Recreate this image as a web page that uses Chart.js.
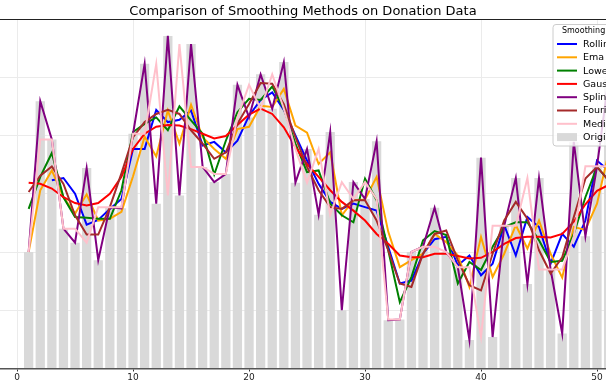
<!DOCTYPE html>
<html>
<head>
<meta charset="utf-8">
<script src="https://cdn.jsdelivr.net/npm/chart.js@4.4.1/dist/chart.umd.min.js"></script>
<style>
  html, body { margin: 0; padding: 0; background: #fff; width: 606px; height: 384px; overflow: hidden; }
  #title { position: absolute; left: 0; top: 3px; width: 606px; text-align: center;
           font: 13px "DejaVu Sans", sans-serif; color: #000; }
  #wrap { position: absolute; left: 0; top: 0; width: 700px; height: 384px; }
</style>
</head>
<body>
<div id="wrap"><canvas id="chart" width="700" height="384"></canvas></div>
<div id="title">Comparison of Smoothing Methods on Donation Data</div>
<script>
// days 1..51 (the figure is cut off on the right)
const days = [1,2,3,4,5,6,7,8,9,10,11,12,13,14,15,16,17,18,19,20,21,22,23,24,25,
  26,27,28,29,30,31,32,33,34,35,36,37,38,39,40,41,42,43,44,45,46,47,48,49,50,51];

const original = [200,459,393,240,216,344,186,277,275,403,523,283,571,297,557,346,320,334,487,431,
  505,446,526,319,377,264,406,100,320,291,390,83,84,200,209,276,200,174,49,362,
  54,245,327,145,327,170,60,389,227,347,497];

const rolling = [null,null,323,327,300,247,255,274,291,377,377,444,423,427,443,383,389,371,391,434,
  461,474,444,400,357,317,286,274,283,277,271,209,146,151,197,222,226,177,194,160,
  180,246,194,260,243,180,231,209,254,357,340];

const ema = [200,306,340,294,266,299,254,257,269,330,398,364,443,386,453,397,377,360,411,415,
  451,449,480,417,405,351,371,263,289,290,329,235,174,186,197,231,217,194,140,226,
  157,197,246,206,254,197,156,243,238,283,370];

const lowess = [274,329,370,294,260,259,257,257,306,406,420,431,409,450,426,403,333,391,440,463,
  461,484,446,386,337,340,283,263,251,326,289,203,114,157,220,236,229,146,183,169,
  209,243,251,251,220,183,185,231,294,346,323];

const gaussian = [319,317,309,294,284,280,284,300,329,377,403,415,418,417,411,403,395,399,418,436,
  446,437,414,380,351,329,306,286,271,254,231,214,194,191,191,197,197,193,189,190,
  200,214,224,226,226,225,231,252,282,305,315];

const spline = original.slice();

const fourier = [303,331,347,317,263,230,230,277,335,397,423,437,444,437,409,386,360,371,420,454,
  490,489,454,397,346,306,277,274,289,289,254,203,146,140,197,231,237,186,143,134,
  197,254,286,257,203,163,191,260,326,346,323];

const median = [200,393,393,240,240,216,277,277,277,403,403,523,297,557,346,346,334,334,431,487,
  446,505,446,377,319,377,264,320,291,320,291,84,84,200,209,209,200,174,174,54,
  245,245,245,327,170,170,170,227,347,347,347];

const xTicks = [0, 10, 20, 30, 40, 50];

function toPoints(ys) {
  return ys.map((y, i) => ({ x: days[i], y: y }));
}

function lineSet(label, values, color, order) {
  return {
    type: 'line',
    label: label,
    data: toPoints(values),
    borderColor: color,
    backgroundColor: color,
    borderWidth: 2,
    pointRadius: 0,
    tension: 0,
    fill: false,
    order: order
  };
}

// legend box like matplotlib's, drawn last
const boxLegend = {
  id: 'boxLegend',
  afterDraw(chart) {
    const ctx = chart.ctx;
    const left = 553, top = 24.5, w = 120, h = 121.5;
    ctx.save();
    ctx.beginPath();
    ctx.roundRect(left, top, w, h, 3);
    ctx.fillStyle = 'rgba(255,255,255,0.8)';
    ctx.fill();
    ctx.strokeStyle = '#cccccc';
    ctx.lineWidth = 1;
    ctx.stroke();

    ctx.fillStyle = '#000';
    ctx.textBaseline = 'middle';
    ctx.font = '8px "DejaVu Sans"';
    ctx.fillText('Smoothing Method', 562, 31);

    ctx.font = '9.5px "DejaVu Sans"';
    chart.data.datasets.forEach((ds, i) => {
      const y = 44 + i * 13.3;
      if (ds.type === 'line') {
        ctx.strokeStyle = ds.borderColor;
        ctx.lineWidth = 2;
        ctx.beginPath();
        ctx.moveTo(557, y);
        ctx.lineTo(577, y);
        ctx.stroke();
      } else {
        ctx.fillStyle = ds.backgroundColor;
        ctx.fillRect(557, y - 4, 20, 8);
      }
      ctx.fillStyle = '#000';
      ctx.fillText(ds.label, 583, y + 0.5);
    });
    ctx.restore();
  }
};

Chart.defaults.font.family = '"DejaVu Sans", sans-serif';

new Chart(document.getElementById('chart'), {
  type: 'bar',
  data: {
    datasets: [
      lineSet('Rolling', rolling, '#0000ff', 7),
      lineSet('Ema', ema, '#ffa500', 6),
      lineSet('Lowess', lowess, '#008000', 5),
      lineSet('Gaussian', gaussian, '#ff0000', 4),
      lineSet('Spline', spline, '#800080', 3),
      lineSet('Fourier', fourier, '#a52a2a', 2),
      lineSet('Median', median, '#ffc0cb', 1),
      {
        type: 'bar',
        label: 'Original',
        data: toPoints(original),
        backgroundColor: '#d9d9d9',
        borderWidth: 0,
        barPercentage: 1,
        categoryPercentage: 0.8,
        order: 8
      }
    ]
  },
  options: {
    responsive: false,
    animation: false,
    layout: { padding: { top: 19, left: 0, right: 0, bottom: 0 } },
    plugins: {
      legend: { display: false },
      tooltip: { enabled: false },
      title: { display: false }
    },
    scales: {
      x: {
        type: 'linear',
        min: -1.47,
        max: 58.88,
        offset: false,
        afterBuildTicks: (scale) => { scale.ticks = xTicks.map(v => ({ value: v })); },
        afterFit: (scale) => { scale.height = 15.5; },
        ticks: { color: '#222', font: { size: 9 }, padding: 1, maxRotation: 0 },
        grid: { color: '#ebebeb', tickColor: '#333', tickLength: 3, offset: false },
        border: { display: true, color: '#555', width: 1.5 }
      },
      y: {
        min: 0,
        max: 600,
        afterFit: (scale) => { scale.width = 0; },
        ticks: { display: false, stepSize: 100 },
        grid: {
          drawTicks: false,
          color: (c) => c.tick && c.tick.value === 600 ? '#222' : '#ebebeb'
        },
        border: { display: false }
      }
    }
  },
  plugins: [boxLegend]
});
</script>
</body>
</html>
